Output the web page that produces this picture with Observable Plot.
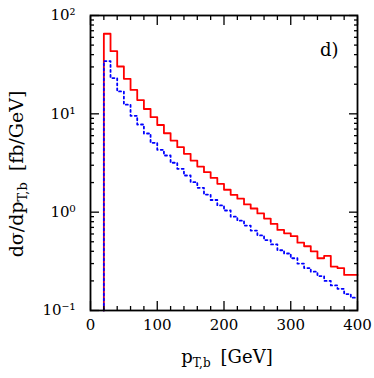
<!DOCTYPE html>
<html><head><meta charset="utf-8">
<script src="https://cdn.jsdelivr.net/npm/d3@7"></script>
<script src="https://cdn.jsdelivr.net/npm/@observablehq/plot@0.6"></script>
<style>body{margin:0;background:#fff} svg{display:block}</style>
</head><body><div id="chart"></div>
<script>
// bin lower edges (GeV), bin width 10 GeV, last bin ends at 400
const binLowEdges = [20,30,40,50,60,70,80,90,100,110,120,130,140,150,160,170,180,190,200,210,220,230,240,250,260,270,280,290,300,310,320,330,340,350,360,370,380,390];
const binUpperEnd = 400;
// red solid histogram (fb/GeV)
const sigmaRed = [65.2,43.4,30.3,22.7,17.5,13.8,11.2,9.25,7.7,6.35,5.35,4.58,3.92,3.35,2.91,2.55,2.23,1.94,1.69,1.50,1.37,1.20,1.09,0.97,0.86,0.76,0.66,0.61,0.57,0.49,0.45,0.40,0.34,0.36,0.28,0.27,0.23,0.23];
// blue dotted histogram (fb/GeV)
const sigmaBlue = [34.4,23.1,16.9,12.4,9.55,7.79,6.31,5.07,4.31,3.77,3.18,2.76,2.36,2.02,1.77,1.51,1.33,1.17,1.04,0.90,0.82,0.73,0.65,0.58,0.52,0.47,0.41,0.38,0.34,0.30,0.27,0.248,0.224,0.200,0.180,0.166,0.147,0.135];

const xMajorTicks = [0,100,200,300,400];
const xMinorTicks = [20,40,60,80,120,140,160,180,220,240,260,280,320,340,360,380];
const yMajorTicks = [0.1,1,10,100];
const yTickLabels = ["10\u207B\u00B9","10\u2070","10\u00B9","10\u00B2"];
const yMinorTicks = [0.2,0.3,0.4,0.5,0.6,0.7,0.8,0.9,2,3,4,5,6,7,8,9,20,30,40,50,60,70,80,90];
const yDomain = [0.1,100];
const panelLabel = "d)";

const yLabelMap = new Map(yMajorTicks.map((v,i)=>[v,yTickLabels[i]]));

function steps(vals){
  const pts = [{x: binLowEdges[0], y: yDomain[0]}];
  vals.forEach((v,i)=>pts.push({x: binLowEdges[i], y: v}));
  pts.push({x: binUpperEnd, y: vals[vals.length-1]});
  return pts;
}

const blank = () => "";
const chart = Plot.plot({
  width: 374, height: 378,
  marginLeft: 90, marginRight: 17, marginTop: 15, marginBottom: 68,
  style: {fontFamily: "DejaVu Serif", fontSize: "14px", color: "black", background: "white"},
  x: {domain: [0,400]},
  y: {type: "log", domain: yDomain},
  marks: [
    Plot.line(steps(sigmaRed), {x:"x", y:"y", curve:"step-after", stroke:"#ff0000", strokeWidth:1.8}),
    Plot.line(steps(sigmaBlue), {x:"x", y:"y", curve:"step-after", stroke:"#0000ff", strokeWidth:1.8, strokeDasharray:"2,3"}),
    Plot.axisX(xMajorTicks, {anchor:"bottom", tickSize:-9, tickFormat: blank, label:null, strokeWidth:1.3}),
    Plot.axisX(xMinorTicks, {anchor:"bottom", tickSize:-4, tickFormat: blank, label:null, strokeWidth:1.3}),
    Plot.axisX(xMajorTicks, {anchor:"top", tickSize:-9, tickFormat: blank, label:null, strokeWidth:1.3}),
    Plot.axisX(xMinorTicks, {anchor:"top", tickSize:-4, tickFormat: blank, label:null, strokeWidth:1.3}),
    Plot.axisY(yMajorTicks, {anchor:"left", tickSize:-9, tickFormat: blank, label:null, strokeWidth:1.3}),
    Plot.axisY(yMinorTicks, {anchor:"left", tickSize:-4, tickFormat: blank, label:null, strokeWidth:1.3}),
    Plot.axisY(yMajorTicks, {anchor:"right", tickSize:-9, tickFormat: blank, label:null, strokeWidth:1.3}),
    Plot.axisY(yMinorTicks, {anchor:"right", tickSize:-4, tickFormat: blank, label:null, strokeWidth:1.3}),
    Plot.axisX(xMajorTicks, {anchor:"bottom", tickSize:0, tickPadding:9, label:null, fontSize:15, tickFormat: d => String(d)}),
    Plot.axisY(yMajorTicks, {anchor:"left", tickSize:0, tickPadding:15, label:null, fontSize:15, tickFormat: d => yLabelMap.get(d)}),
    Plot.text([panelLabel], {frameAnchor:"top-right", text: d=>d, textAnchor:"end", lineAnchor:"bottom", dx:-19, dy:40, fontSize:18}),
    Plot.frame({stroke:"black", strokeWidth:1.8})
  ]
});
document.getElementById("chart").appendChild(chart);

const svg = d3.select(chart);
// y axis label
const yl = svg.append("text")
  .attr("transform", "translate(23,174) rotate(-90)")
  .attr("text-anchor", "middle")
  .attr("font-family", "DejaVu Serif").attr("font-size", 19).attr("fill", "black");
yl.append("tspan").text("d\u03C3/dp");
yl.append("tspan").attr("font-size", 13).attr("dy", 4).text("T,b");
yl.append("tspan").attr("dy", -4).attr("dx", 11).text("[fb/GeV]");
// x axis label
const xl = svg.append("text")
  .attr("x", 227).attr("y", 363)
  .attr("text-anchor", "middle")
  .attr("font-family", "DejaVu Serif").attr("font-size", 18).attr("fill", "black");
xl.append("tspan").text("p");
xl.append("tspan").attr("font-size", 12).attr("dy", 4).text("T,b");
xl.append("tspan").attr("dy", -4).attr("dx", 10).text("[GeV]");
</script>
</body></html>
